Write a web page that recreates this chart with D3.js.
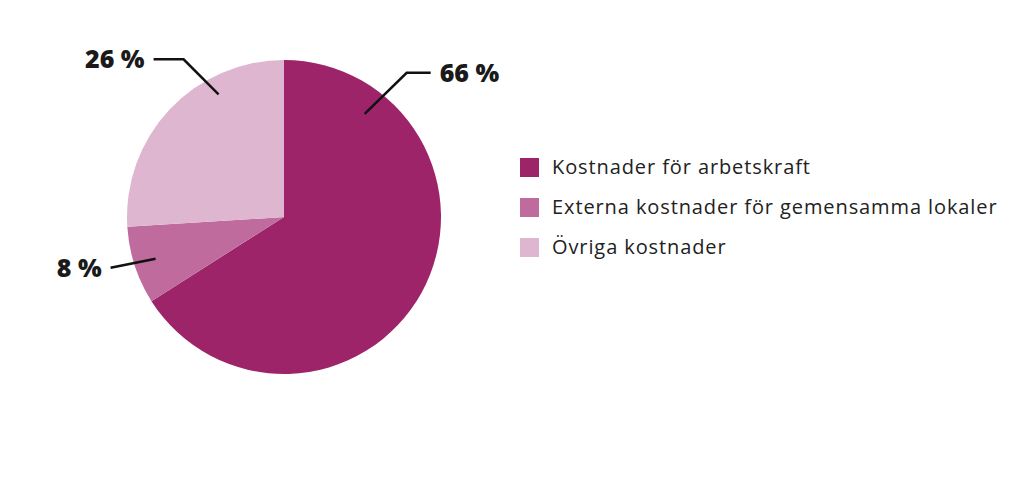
<!DOCTYPE html>
<html>
<head>
<meta charset="utf-8">
<script src="https://cdn.jsdelivr.net/npm/d3@7"></script>
<style>
  body { margin: 0; background: #fff; }
  svg { display: block; }
</style>
</head>
<body>
<svg id="chart" width="1024" height="503"></svg>
<script>
// data
const categories = ["Kostnader för arbetskraft", "Externa kostnader för gemensamma lokaler", "Övriga kostnader"];
const values = [66, 8, 26];
const valueLabels = ["66 %", "8 %", "26 %"];
const colors = ["#9e2469", "#c06b9e", "#dfb6cf"];

const width = 1024, height = 503;
const cx = 284, cy = 217, radius = 157;

const svg = d3.select("#chart");

const pie = d3.pie().sort(null).value(d => d)(values);
const arc = d3.arc().innerRadius(0).outerRadius(radius);

const g = svg.append("g").attr("transform", `translate(${cx},${cy})`);

g.selectAll("path.slice")
    .data(pie)
    .join("path")
    .attr("class", "slice")
    .attr("d", arc)
    .attr("fill", (d, i) => colors[i]);

// where along each slice the leader starts (fraction of slice angle), how far out, and the elbow
const leaderFrac = [0.16, 0.5, 0.70];
const leaderR = [131, 135, 139];
const elbow = [[42, -41], [-45, 9], [-35, -35]];
const tail = [24, 0, -30];

pie.forEach((d, i) => {
    const a = d.startAngle + (d.endAngle - d.startAngle) * leaderFrac[i];
    const x0 = Math.sin(a) * leaderR[i];
    const y0 = -Math.cos(a) * leaderR[i];
    const x1 = x0 + elbow[i][0], y1 = y0 + elbow[i][1];
    const x2 = x1 + tail[i];
    const pts = [[x0, y0], [x1, y1], [x2, y1]];
    g.append("path")
        .attr("d", d3.line()(pts))
        .attr("fill", "none")
        .attr("stroke", "#111")
        .attr("stroke-width", 2.5);
    const right = x2 >= x0;
    g.append("text")
        .attr("x", right ? x2 + 9 : x2 - 9)
        .attr("y", y1 + 9)
        .attr("text-anchor", right ? "start" : "end")
        .attr("font-family", "'Open Sans', sans-serif")
        .attr("font-weight", 800)
        .attr("font-size", 25)
        .attr("fill", "#1a1a1a")
        .text(valueLabels[i]);
});

// legend
const legend = svg.append("g").attr("transform", "translate(520,158)");
const ly = d3.scaleBand().domain(categories).range([0, 120]);
categories.forEach((c, i) => {
    const row = legend.append("g").attr("transform", `translate(0,${ly(c)})`);
    row.append("rect")
        .attr("width", 19).attr("height", 19)
        .attr("fill", colors[i]);
    row.append("text")
        .attr("x", 32).attr("y", 16)
        .attr("font-family", "'Open Sans', sans-serif")
        .attr("font-size", 20)
        .attr("letter-spacing", 0.9)
        .attr("fill", "#222")
        .text(c);
});
</script>
</body>
</html>
